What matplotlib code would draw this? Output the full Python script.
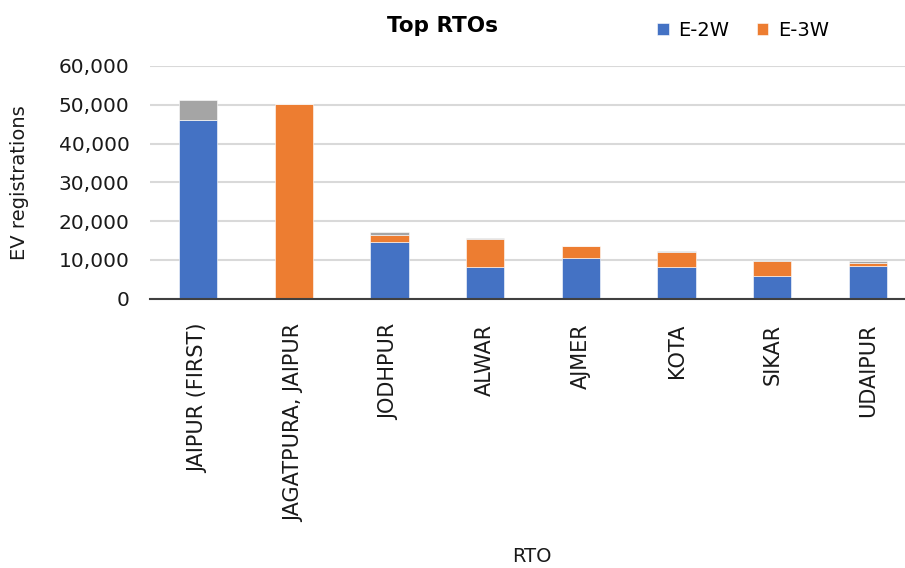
import numpy as np
import matplotlib.pyplot as plt

plt.rcParams['font.family'] = ['DejaVu Sans']

rtos = ['JAIPUR (FIRST)', 'JAGATPURA, JAIPUR', 'JODHPUR', 'ALWAR', 'AJMER', 'KOTA', 'SIKAR', 'UDAIPUR']
e2w = [46000, 0, 14500, 8100, 10500, 8200, 5800, 8400]
e3w = [0, 50300, 2000, 7200, 3000, 3850, 4000, 700]
other = [5300, 0, 700, 400, 150, 300, 100, 600]

fig = plt.figure(figsize=(9.05, 5.68), dpi=100)
ax = fig.add_axes([0.166, 0.474, 0.846, 0.41])

x = np.arange(len(rtos))
w = 0.4
b2 = np.array(e2w)
b3 = b2 + np.array(e3w)
ax.bar(x, e2w, w, color='#4472C4', edgecolor='white', linewidth=0.4, label='E-2W', zorder=3)
ax.bar(x, e3w, w, bottom=b2, color='#ED7D31', edgecolor='white', linewidth=0.4, label='E-3W', zorder=3)
ax.bar(x, other, w, bottom=b3, color='#A5A5A5', edgecolor='white', linewidth=0.4, zorder=3)

ax.set_xlim(-0.5, len(rtos) - 0.5)
ax.set_ylim(0, 60000)
ax.set_yticks(range(0, 60001, 10000))
ax.set_yticklabels([f'{v:,}' for v in range(0, 60001, 10000)], fontsize=14.5, color='#1a1a1a')
ax.set_xticks(x)
ax.set_xticklabels(rtos, rotation=90, fontsize=15, color='#1a1a1a')
ax.tick_params(axis='y', length=0, pad=15)
ax.tick_params(axis='x', length=0, pad=18)
ax.grid(axis='y', color='#D9D9D9', linewidth=1.5, zorder=0)
for s in ['top', 'right', 'left']:
    ax.spines[s].set_visible(False)
ax.spines['bottom'].set_color('#404040')
ax.spines['bottom'].set_linewidth(1.5)
ax.spines['bottom'].set_zorder(4)

fig.text(0.022, 0.678, 'EV registrations', fontsize=14, rotation=90, ha='center', va='center', color='#1a1a1a')
fig.text(0.588, 0.021, 'RTO', fontsize=14, ha='center', va='center', color='#1a1a1a')
fig.text(0.489, 0.955, 'Top RTOs', fontsize=15.5, fontweight='bold', ha='center', va='center')
fig.legend(loc='center', bbox_to_anchor=(0.821, 0.947), ncol=2, frameon=False,
           fontsize=14, handlelength=0.6, handleheight=0.6, columnspacing=1.4, handletextpad=0.5)

fig.savefig('out.png', dpi=100)
